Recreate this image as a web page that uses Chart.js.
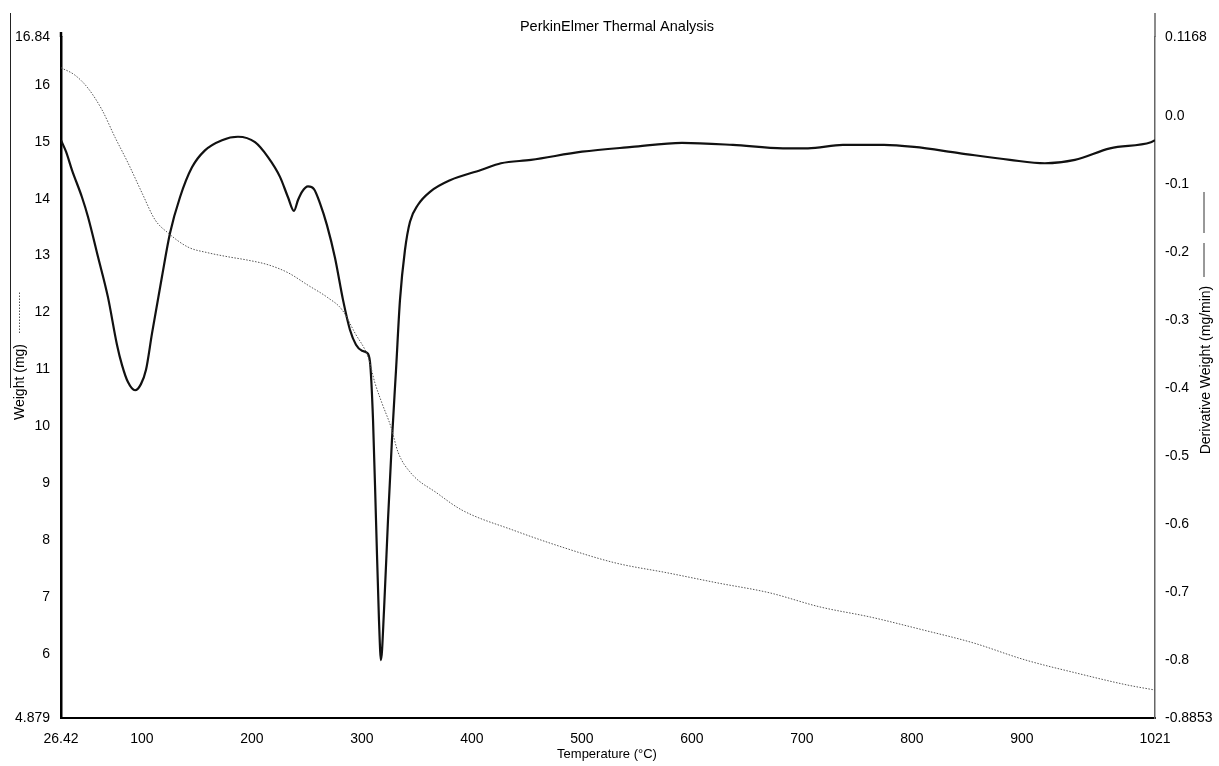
<!DOCTYPE html>
<html lang="en">

<head>
    <meta charset="UTF-8">
    <title>PerkinElmer Thermal Analysis</title>
    <script src="https://cdn.jsdelivr.net/npm/chart.js"></script>
    <style>
        body {
            margin: 0;
            background: #fff;
        }

        .grafico {
            position: relative;
            width: 1219px;
            height: 766px;
        }
    </style>
</head>

<body>
    <div class="grafico">
        <canvas id="tga"></canvas>
    </div>
</body>

</html>
<script>
    // weight curve (dotted, left axis)
    var tempWeight = [26.4, 39.1, 51.0, 63.7, 75.5, 87.3, 100.1, 111.9, 123.7, 141.9, 160.1, 178.2, 196.4,
        214.6, 232.8, 251.0, 269.1, 281.9, 293.7, 305.5, 311.9, 318.2, 326.4, 332.8, 344.6, 368.2, 391.0,
        437.3, 483.7, 531.0, 577.3, 623.7, 670.1, 716.4, 762.8, 809.2, 855.5, 902.8, 949.2, 995.5, 1021];
    var weightMg = [16.30, 16.17, 15.94, 15.56, 15.08, 14.63, 14.10, 13.63, 13.40, 13.15, 13.05, 12.98, 12.92,
        12.84, 12.70, 12.48, 12.26, 12.05, 11.64, 11.22, 10.76, 10.41, 9.99, 9.55, 9.18, 8.83, 8.53,
        8.18, 7.87, 7.60, 7.43, 7.25, 7.08, 6.83, 6.65, 6.43, 6.20, 5.90, 5.67, 5.46, 5.37];

    // derivative curve (solid, right axis)
    var tempDeriv = [26.4, 31.0, 36.4, 45.5, 51.0, 60.1, 69.1, 77.3, 81.9, 87.3, 93.7, 99.1, 103.7, 109.2,
        118.2, 125.5, 134.6, 145.5, 157.3, 172.8, 187.3, 202.8, 214.6, 225.5, 232.8, 238.2, 241.9, 245.5,
        251.0, 256.4, 261.9, 268.2, 275.5, 282.8, 289.1, 294.6, 300.1, 304.6, 307.3, 310.1, 312.8, 315.5,
        317.3, 320.1, 323.7, 327.3, 331.0, 334.6, 339.1, 343.7, 351.0, 361.9, 380.1, 408.2, 426.4, 453.7,
        500.1, 545.5, 591.0, 637.3, 682.8, 705.5, 737.3, 774.6, 801.9, 842.8, 889.1, 920.9, 948.2, 980.1,
        1017.3, 1021];
    var derivMgMin = [-0.035, -0.052, -0.079, -0.119, -0.148, -0.207, -0.266, -0.336, -0.366, -0.391, -0.403,
        -0.394, -0.373, -0.319, -0.236, -0.172, -0.119, -0.075, -0.050, -0.035, -0.030, -0.038, -0.060,
        -0.089, -0.119, -0.139, -0.123, -0.111, -0.103, -0.107, -0.128, -0.160, -0.208, -0.270, -0.314,
        -0.336, -0.345, -0.348, -0.361, -0.447, -0.594, -0.741, -0.800, -0.726, -0.594, -0.476, -0.373,
        -0.270, -0.197, -0.155, -0.130, -0.111, -0.094, -0.079, -0.069, -0.064, -0.052, -0.045, -0.039,
        -0.042, -0.047, -0.047, -0.042, -0.042, -0.045, -0.054, -0.064, -0.069, -0.064, -0.047, -0.038,
        -0.035];

    // tick values and labels
    var xTicks = [26.42, 100, 200, 300, 400, 500, 600, 700, 800, 900, 1021];
    var xLabels = ['26.42', '100', '200', '300', '400', '500', '600', '700', '800', '900', '1021'];
    var yTicks = [4.879, 6, 7, 8, 9, 10, 11, 12, 13, 14, 15, 16, 16.84];
    var yLabels = ['4.879', '6', '7', '8', '9', '10', '11', '12', '13', '14', '15', '16', '16.84'];
    var y1Ticks = [-0.8853, -0.8, -0.7, -0.6, -0.5, -0.4, -0.3, -0.2, -0.1, 0, 0.1168];
    var y1Labels = ['-0.8853', '-0.8', '-0.7', '-0.6', '-0.5', '-0.4', '-0.3', '-0.2', '-0.1', '0.0', '0.1168'];

    Chart.defaults.font.family = "'Liberation Sans', Arial, sans-serif";
    Chart.defaults.font.size = 14;
    Chart.defaults.color = '#000';

    var textos = {
        id: 'textos',
        afterDraw: function (chart) {
            var ctx = chart.ctx;
            var area = chart.chartArea;
            ctx.save();
            ctx.fillStyle = '#000';
            ctx.textBaseline = 'middle';
            ctx.textAlign = 'center';

            ctx.font = "14.5px 'Liberation Sans', Arial, sans-serif";
            ctx.fillText('PerkinElmer Thermal Analysis', 617, 27);

            ctx.font = "13px 'Liberation Sans', Arial, sans-serif";
            ctx.fillText('Temperature (°C)', 607, 754);

            ctx.font = "14px 'Liberation Sans', Arial, sans-serif";
            // left title + dotted sample
            ctx.save();
            ctx.translate(20, 382);
            ctx.rotate(-Math.PI / 2);
            ctx.fillText('Weight (mg)', 0, 0);
            ctx.restore();
            ctx.strokeStyle = '#555';
            ctx.lineWidth = 1;
            ctx.setLineDash([1.5, 1.5]);
            ctx.beginPath();
            ctx.moveTo(19.5, 333);
            ctx.lineTo(19.5, 292);
            ctx.stroke();
            ctx.setLineDash([]);

            // right title + solid sample
            ctx.save();
            ctx.translate(1206, 370);
            ctx.rotate(-Math.PI / 2);
            ctx.fillText('Derivative Weight (mg/min)', 0, 0);
            ctx.restore();
            ctx.strokeStyle = '#333';
            ctx.beginPath();
            ctx.moveTo(1204, 192);
            ctx.lineTo(1204, 233);
            ctx.moveTo(1204, 243);
            ctx.lineTo(1204, 277);
            ctx.stroke();

            // axis extensions and scan edge
            ctx.strokeStyle = '#666';
            ctx.lineWidth = 1.5;
            ctx.beginPath();
            ctx.moveTo(area.right, 13);
            ctx.lineTo(area.right, area.top);
            ctx.stroke();
            ctx.strokeStyle = '#000';
            ctx.lineWidth = 2.5;
            ctx.beginPath();
            ctx.moveTo(area.left, 32);
            ctx.lineTo(area.left, area.top);
            ctx.stroke();
            ctx.lineWidth = 1;
            ctx.strokeStyle = '#222';
            ctx.beginPath();
            ctx.moveTo(10.5, 13);
            ctx.lineTo(10.5, 388);
            ctx.stroke();
            ctx.restore();
        }
    };

    var grafico = new Chart(document.getElementById('tga').getContext('2d'), {
        type: 'line',
        data: {
            datasets: [{
                label: 'Weight (mg)',
                data: tempWeight.map((t, i) => ({ x: t, y: weightMg[i] })),
                yAxisID: 'y',
                borderColor: '#555',
                borderWidth: 1,
                borderDash: [1.5, 1.5],
                pointRadius: 0,
                cubicInterpolationMode: 'monotone'
            }, {
                label: 'Derivative Weight (mg/min)',
                data: tempDeriv.map((t, i) => ({ x: t, y: derivMgMin[i] })),
                yAxisID: 'y1',
                borderColor: '#111',
                borderWidth: 2.2,
                pointRadius: 0,
                cubicInterpolationMode: 'monotone'
            }]
        },
        options: {
            responsive: true,
            maintainAspectRatio: false,
            animation: false,
            layout: {
                padding: { top: 37, left: 0, right: 0, bottom: 0 }
            },
            plugins: {
                legend: { display: false },
                tooltip: { enabled: false }
            },
            scales: {
                x: {
                    type: 'linear',
                    min: 26.42,
                    max: 1021,
                    grid: { display: false, drawTicks: false, tickLength: 0 },
                    border: { display: true, color: '#000', width: 2 },
                    afterBuildTicks: function (scale) {
                        scale.ticks = xTicks.map(v => ({ value: v }));
                    },
                    afterFit: function (scale) {
                        scale.height = 48;
                    },
                    ticks: {
                        autoSkip: false,
                        maxRotation: 0,
                        padding: 13,
                        callback: function (value, index) {
                            return xLabels[index];
                        }
                    }
                },
                y: {
                    position: 'left',
                    min: 4.879,
                    max: 16.84,
                    grid: { display: false, drawTicks: false, tickLength: 0 },
                    border: { display: true, color: '#000', width: 2.5 },
                    afterBuildTicks: function (scale) {
                        scale.ticks = yTicks.map(v => ({ value: v }));
                    },
                    afterFit: function (scale) {
                        scale.width = 61;
                    },
                    ticks: {
                        autoSkip: false,
                        padding: 11,
                        callback: function (value, index) {
                            return yLabels[index];
                        }
                    }
                },
                y1: {
                    position: 'right',
                    min: -0.8853,
                    max: 0.1168,
                    grid: { display: false, drawTicks: false, tickLength: 0 },
                    border: { display: true, color: '#666', width: 1.5 },
                    afterBuildTicks: function (scale) {
                        scale.ticks = y1Ticks.map(v => ({ value: v }));
                    },
                    afterFit: function (scale) {
                        scale.width = 64;
                    },
                    ticks: {
                        autoSkip: false,
                        padding: 10,
                        callback: function (value, index) {
                            return y1Labels[index];
                        }
                    }
                }
            }
        },
        plugins: [textos]
    });
</script>
